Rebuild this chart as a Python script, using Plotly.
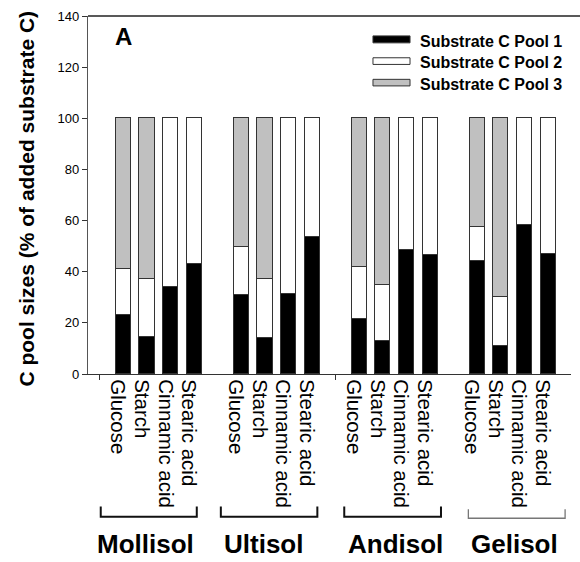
import plotly.graph_objects as go

soils = ["Mollisol", "Ultisol", "Andisol", "Gelisol"]
substrates = ["Glucose", "Starch", "Cinnamic acid", "Stearic acid"]

# values per soil, in substrate order (% of added substrate C)
pool1 = {
    "Mollisol": [23.2, 14.3, 34.0, 43.0],
    "Ultisol":  [31.0, 13.9, 31.2, 53.7],
    "Andisol":  [21.7, 12.8, 48.5, 46.7],
    "Gelisol":  [44.3, 11.0, 58.3, 46.9],
}
pool2 = {
    "Mollisol": [17.9, 22.9, 66.0, 57.0],
    "Ultisol":  [18.8, 23.3, 68.8, 46.3],
    "Andisol":  [20.3, 21.9, 51.5, 53.3],
    "Gelisol":  [13.3, 19.2, 41.7, 53.1],
}
pool3 = {
    "Mollisol": [58.9, 62.8, None, None],
    "Ultisol":  [50.2, 62.8, None, None],
    "Andisol":  [58.0, 65.3, None, None],
    "Gelisol":  [42.4, 69.8, None, None],
}
series_names = ["Substrate C Pool 1", "Substrate C Pool 2", "Substrate C Pool 3"]
y_ticks = [0, 20, 40, 60, 80, 100, 120, 140]

FONT = "Arial, Liberation Sans, sans-serif"
fills = ["#000000", "#ffffff", "#c0c0c0"]
edge = "#333333"

# category slots: one empty slot before each soil group
xpos, labels = [], []
for gi, s in enumerate(soils):
    for si, sub in enumerate(substrates):
        xpos.append(gi * 5 + si + 1)
        labels.append(sub)

def flat(d):
    out = []
    for s in soils:
        out += d[s]
    return out

fig = go.Figure()
for name, data, col in zip(series_names, [pool1, pool2, pool3], fills):
    fig.add_trace(go.Bar(
        x=xpos, y=flat(data), name=name, width=0.64,
        marker=dict(color=col, line=dict(color=edge, width=1)),
        showlegend=False,
    ))

shapes = []
annotations = []

# top frame line
shapes.append(dict(type="line", xref="paper", yref="paper", x0=0, x1=1.02, y0=1, y1=1,
                   line=dict(color="#222222", width=1.5)))

# group brackets
brackets = [(0.04, 4.11, "#111111", 2, -0.370, -0.399),
            (5.13, 9.22, "#111111", 2, -0.370, -0.399),
            (10.36, 14.46, "#111111", 2, -0.370, -0.399),
            (15.62, 19.72, "#777777", 1.3, -0.378, -0.403)]
for x0, x1, c, w, ytop, ybot in brackets:
    shapes.append(dict(type="path", xref="x", yref="paper",
                       path=f"M {x0},{ytop} L {x0},{ybot} L {x1},{ybot} L {x1},{ytop}",
                       line=dict(color=c, width=w)))

# group labels
for s, xc in zip(soils, [1.92, 6.94, 12.54, 17.56]):
    annotations.append(dict(text=f"<b>{s}</b>", x=xc, y=-0.476, xref="x", yref="paper",
                            xanchor="center", yanchor="middle", showarrow=False,
                            font=dict(family=FONT, size=26, color="black")))

# custom legend
leg_rows = [(0.9444, 0.925, 0.929), (0.8833, 0.8647, 0.8694), (0.8231, 0.8047, 0.8097)]
for (y0, y1, yt), name, col in zip(leg_rows, series_names, fills):
    shapes.append(dict(type="rect", xref="paper", yref="paper", x0=0.590, x1=0.6667,
                       y0=y1, y1=y0, fillcolor=col, line=dict(color=edge, width=1)))
    annotations.append(dict(text=f"<b>{name}</b>", x=0.684, y=yt, xref="paper", yref="paper",
                            xanchor="left", yanchor="middle", showarrow=False,
                            font=dict(family=FONT, size=16, color="black")))

# panel letter
annotations.append(dict(text="<b>A</b>", x=0.0725, y=0.944, xref="paper", yref="paper",
                        xanchor="center", yanchor="middle", showarrow=False,
                        font=dict(family=FONT, size=24, color="black")))

# y-axis title
annotations.append(dict(text="<b>C pool sizes (% of added substrate C)</b>", x=-0.127, y=0.489,
                        xref="paper", yref="paper", textangle=-90,
                        xanchor="center", yanchor="middle", showarrow=False,
                        font=dict(family=FONT, size=21, color="black")))

fig.update_layout(
    barmode="stack",
    width=580, height=562,
    margin=dict(l=88, r=9, t=14, b=188),
    paper_bgcolor="white", plot_bgcolor="white",
    font=dict(family=FONT, color="black"),
    shapes=shapes, annotations=annotations,
    xaxis=dict(range=[-0.5, 19.97], tickmode="array",
               tickvals=[x - 0.23 for x in xpos], ticktext=labels,
               tickangle=90, ticks="", showgrid=False, zeroline=False,
               showline=True, linecolor="#333333", linewidth=1.2,
               tickfont=dict(family=FONT, size=20.5, color="black"),
               minor=dict(tickmode="array", tickvals=[0, 10, 20], ticks="outside",
                          ticklen=5, tickcolor="#333333", tickwidth=1, showgrid=False)),
    yaxis=dict(range=[0, 140], tickmode="array", tickvals=y_ticks,
               ticks="outside", ticklen=5, tickcolor="#333333",
               showgrid=False, zeroline=False, showline=True,
               linecolor="#555555", linewidth=1.2,
               tickfont=dict(family=FONT, size=13, color="black")),
    bargap=0,
)

fig.write_html("out.html")
